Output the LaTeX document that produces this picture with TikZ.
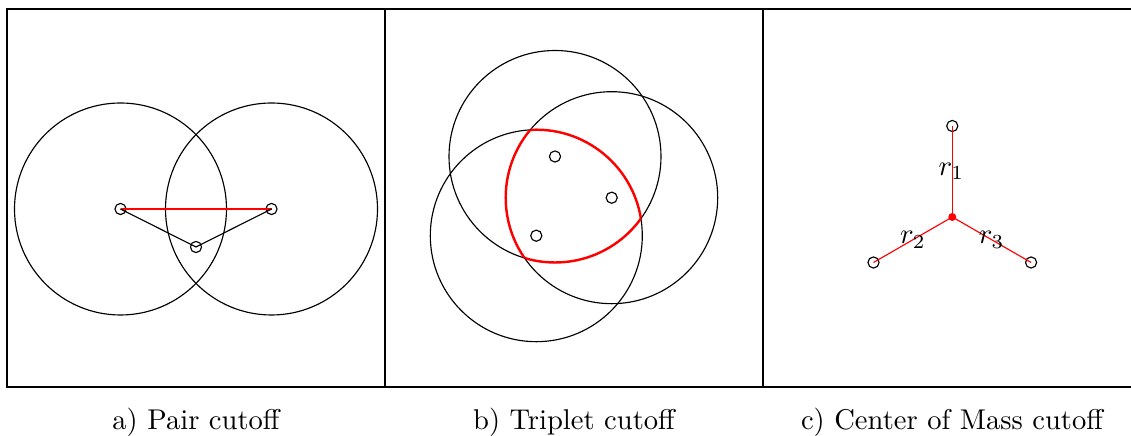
\documentclass[tikz,border=0pt]{standalone}
\begin{document}
\begin{tikzpicture}[x=0.35pt,y=-0.35pt,
  frame/.style={draw=black,line width=0.45pt},
  big/.style={draw=black,line width=0.4pt},
  atom/.style={circle,draw=black,line width=0.4pt,minimum size=3.9pt,inner sep=0pt},
  link/.style={draw=black,line width=0.4pt},
  redlink/.style={draw=red,line width=0.4pt},
  region/.style={draw=red,line width=0.85pt},
  com/.style={circle,fill=red,minimum size=2.8pt,inner sep=0pt},
  caption/.style={anchor=base,font=\normalsize},
  lab/.style={inner sep=0pt,font=\normalsize}]
\useasboundingbox (0,0) rectangle (1131,436);
% frames
\draw[frame] (7,9) rectangle (385,387);
\draw[frame] (385,9) rectangle (763,387);
\draw[frame] (763,9) rectangle (1141,387);
% panel a
\coordinate (ca1) at (120.5,209);
\coordinate (ca2) at (271.5,209);
\draw[big] (ca1) circle[radius=37.1pt];
\draw[big] (ca2) circle[radius=37.1pt];
\node[atom] (a1) at (ca1) {};
\node[atom] (a2) at (ca2) {};
\node[atom] (a3) at (196,247) {};
\draw[redlink] (a1.center) -- (a2.center);
\draw[link] (a1.center) -- (a3.center);
\draw[link] (a2.center) -- (a3.center);
% panel b
\coordinate (cb1) at (555,156.5);
\coordinate (cb2) at (611.7,197.7);
\coordinate (cb3) at (536.3,235.7);
\draw[big] (cb1) circle[radius=37.1pt];
\draw[big] (cb2) circle[radius=37.1pt];
\draw[big] (cb3) circle[radius=37.1pt];
\begin{scope}
  \clip (cb1) circle[radius=37.1pt];
  \clip (cb2) circle[radius=37.1pt];
  \draw[region] (cb3) circle[radius=37.1pt];
\end{scope}
\begin{scope}
  \clip (cb2) circle[radius=37.1pt];
  \clip (cb3) circle[radius=37.1pt];
  \draw[region] (cb1) circle[radius=37.1pt];
\end{scope}
\begin{scope}
  \clip (cb1) circle[radius=37.1pt];
  \clip (cb3) circle[radius=37.1pt];
  \draw[region] (cb2) circle[radius=37.1pt];
\end{scope}
\node[atom] (b1) at (cb1) {};
\node[atom] (b2) at (cb2) {};
\node[atom] (b3) at (cb3) {};
% panel c
\node[com] (m) at (952.3,217) {};
\node[atom] (c1) at (952.3,126) {};
\node[atom] (c2) at (873.5,262.5) {};
\node[atom] (c3) at (1031.1,262.5) {};
\draw[redlink] (c1.center) -- node[lab,xshift=-0.3pt] {$r_1$} (m.center);
\draw[redlink] (c2.center) -- node[lab] {$r_2$} (m.center);
\draw[redlink] (c3.center) -- node[lab] {$r_3$} (m.center);
% captions
\node[caption] (capa) at (196,430) {a) Pair cutoff};
\node[caption] (capb) at (574,430) {b) Triplet cutoff};
\node[caption] (capc) at (952,430) {c) Center of Mass cutoff};
\end{tikzpicture}
\end{document}
